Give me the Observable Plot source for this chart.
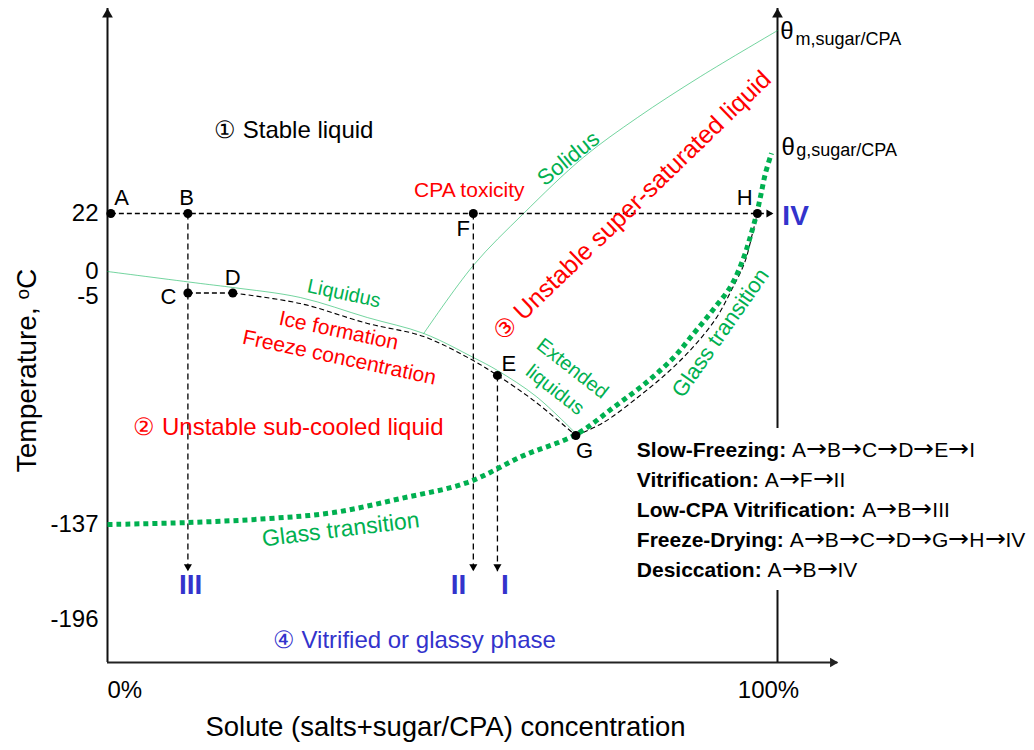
<!DOCTYPE html>
<html>
<head>
<meta charset="utf-8">
<script src="https://cdn.jsdelivr.net/npm/d3@7"></script>
<script src="https://cdn.jsdelivr.net/npm/@observablehq/plot@0.6"></script>
<style>
  html, body { margin: 0; padding: 0; background: #fff; }
  @font-face { font-family: "RouteArrows"; src: local("DejaVu Sans"), local("DejaVuSans"); unicode-range: U+2190-21FF; size-adjust: 118%; }
</style>
</head>
<body>
<div id="chart"></div>
<script>
// ------------------------------------------------------------------
// DATA (concentration in %, temperature in °C on a schematic axis)
// ------------------------------------------------------------------
const tempBreaks = [-223, -196, -137, -5, 0, 22, 100];   // schematic (piecewise) temperature axis
const yTicks = [22, 0, -5, -137, -196];
const yTickLabels = ["22", "0", "-5", "-137", "-196"];
const xTicks = [0, 100];
const xTickLabels = ["0%", "100%"];
const xAxisEnd = 109;            // x-axis arrow extends beyond 100%
const rightAxisGap = [-81.4, -178]; // right axis interrupted by the legend

// process states
const pointNames = ["A", "B", "C", "D", "E", "F", "G", "H"];
const pointConc  = [0.5, 12, 12, 18.7, 58.2, 54.6, 69.9, 97];
const pointTemp  = [22, 22, -4.3, -4.3, -50.7, 22, -85.5, 22];
const letterConc = [2.1, 11.8, 9.1, 18.7, 59.9, 53.1, 71.2, 95.1];
const letterTemp = [27.8, 27.8, -5.2, -1.2, -43.8, 16.3, -94.2, 28.1];
const arrowEndTemp = -166;       // end of the cooling arrows
const ivArrowConc = 99.4;        // end of the H -> IV arrow

// liquidus (0% .. G)
const liquidusConc = [0, 13.9, 18.7, 28.8, 38.8, 47.2, 54.6, 58.2, 64.0, 69.9];
const liquidusTemp = [0, -2.4, -3.2, -5.6, -17.2, -26.4, -40.3, -47.8, -62.9, -84.3];
// solidus (from liquidus up to θm)
const solidusConc = [47.2, 54.6, 62.1, 71.0, 79.1, 88.5, 100];
const solidusTemp = [-26.4, 2.3, 22, 43.3, 58.5, 74.1, 91.6];
// glass transition (Tg curve)
const glassConc = [0, 11.9, 23.9, 33.7, 43.7, 53.7, 62.1, 69.9, 75.5, 80.6, 84.5, 87.5, 90.3, 93.1, 94.9, 96.0, 96.9, 97.5, 98.2, 99.1];
const glassTemp = [-137, -135.9, -133.6, -130.1, -122.0, -112.7, -97.1, -85.0, -69.3, -54.2, -40.3, -26.4, -13.1, -2.8, 4.9, 13.7, 22, 28.9, 37.3, 44.9];
// freeze-concentration path D -> E -> G
const freezePathConc = [18.7, 28.8, 38.8, 47.2, 54.6, 58.2, 63.6, 69.9];
const freezePathTemp = [-4.3, -9.1, -20.6, -28.2, -42.1, -50.7, -65.2, -85.5];
// drying path G -> H
const dryPathConc = [69.9, 74.0, 79.3, 83.6, 87.5, 90.9, 93.1, 95.1, 96.3, 97];
const dryPathTemp = [-85.5, -78.0, -62.9, -49.0, -33.9, -17.2, -3.8, 3.4, 14.8, 22];

// end states
const romanLabels = ["III", "II", "I", "IV"];
const romanConc   = [12.4, 52.4, 59.3, 102.7];
const romanTemp   = [-174.9, -174.9, -174.9, 21.1];

// legend
const legendLabels = ["Slow-Freezing:", "Vitrification:", "Low-CPA Vitrification:", "Freeze-Drying:", "Desiccation:"];
const legendRoutes = ["A→B→C→D→E→I", "A→F→II", "A→B→III", "A→B→C→D→G→H→IV", "A→B→IV"];
const legendConc = 79.0, legendTemp = -94.2;

// ------------------------------------------------------------------
// schematic temperature axis: piecewise-linear, segment lengths in axis units
const axisLevels = [0, 43, 138, 366, 391, 449, 654];
const schematic = d3.scaleLinear().domain(tempBreaks).range(axisLevels);

const font = '"Liberation Sans", Arial, Helvetica, sans-serif';
const routeFont = '"RouteArrows", "Liberation Sans", Arial, Helvetica, sans-serif';
const GREEN = "#00b050", RED = "#ff0000", BLUE = "#3333cc", BLACK = "#000";
const toXY = (xs, ys) => xs.map((x, i) => ({x, y: ys[i]}));
const pts = pointNames.map((name, i) => ({name, x: pointConc[i], y: pointTemp[i]}));
const P = Object.fromEntries(pts.map(p => [p.name, p]));
const letters = pointNames.map((name, i) => ({name, x: letterConc[i], y: letterTemp[i]}));
const romans = romanLabels.map((t, i) => ({t, x: romanConc[i], y: romanTemp[i]}));
const yMin = tempBreaks[0], yMax = tempBreaks[tempBreaks.length - 1];

const dash = {stroke: BLACK, strokeWidth: 1.3, strokeDasharray: "5,3", strokeLinecap: "butt"};
const verticalDrops = [P.B, P.F, P.E];

const ctx = document.createElement("canvas").getContext("2d");
const measure = (t, f) => { ctx.font = f; return ctx.measureText(t).width; };
const legendMarks = legendLabels.flatMap((label, i) => {
  const w = measure(label + " ", `bold 21px ${font}`);
  return [
    Plot.text([label], {x: legendConc, y: legendTemp, dy: 30 * i, textAnchor: "start", fontSize: 21, fontWeight: "bold", fill: BLACK}),
    Plot.text([legendRoutes[i]], {x: legendConc, y: legendTemp, dy: 30 * i, dx: w, textAnchor: "start", fontSize: 21, fontFamily: routeFont, fill: BLACK})
  ];
});

const T = (text, x, y, opts) => Plot.text([text], {x, y, ...opts});

const chart = Plot.plot({
  width: 1034,
  height: 750,
  marginLeft: 107, marginRight: 257, marginTop: 8, marginBottom: 88,
  x: {domain: [0, 100], axis: null},
  y: {transform: schematic, domain: [axisLevels[0], axisLevels[axisLevels.length - 1]], axis: null},
  style: {fontFamily: font, background: "#fff", color: "#000", overflow: "visible"},
  marks: [
    // axes
    Plot.ruleX([0], {y1: yMin, y2: yMax, stroke: "#111", strokeWidth: 2}),
    Plot.ruleY([yMin], {x1: 0, x2: xAxisEnd, stroke: "#222", strokeWidth: 2}),
    Plot.ruleX([100], {y1: rightAxisGap[0], y2: yMax, stroke: "#111", strokeWidth: 2}),
    Plot.ruleX([100], {y1: yMin, y2: rightAxisGap[1], stroke: "#111", strokeWidth: 2}),
    Plot.dot([0, 100], {x: d => d, y: yMax, symbol: "triangle", r: 4, fill: "#111", dy: 6}),
    Plot.dot([xAxisEnd], {x: d => d, y: yMin, symbol: "triangle", r: 3.5, rotate: 90, fill: "#222", dx: -5}),
    Plot.text(yTicks, {x: 0, y: d => d, text: (d, i) => yTickLabels[i], textAnchor: "end", dx: -9, fontSize: 24, fill: BLACK}),
    Plot.text([xTicks[0]], {x: d => d, y: yMin, text: () => xTickLabels[0], textAnchor: "start", dy: 28, fontSize: 24, fill: BLACK}),
    Plot.text([xTicks[1]], {x: d => d, y: yMin, text: () => xTickLabels[1], textAnchor: "middle", dx: -9, dy: 28, fontSize: 24, fill: BLACK}),
    Plot.text(["Solute (salts+sugar/CPA) concentration"], {frameAnchor: "bottom", textAnchor: "middle", dx: 3, dy: 73, fontSize: 27.5, fill: BLACK}),
    Plot.text(["Temperature, ᵒC"], {frameAnchor: "left", textAnchor: "middle", rotate: -90, dx: -80, dy: 35, fontSize: 28, fill: BLACK}),

    // phase boundaries
    Plot.line(toXY(liquidusConc, liquidusTemp), {x: "x", y: "y", curve: "catmull-rom", stroke: GREEN, strokeOpacity: 0.55, strokeWidth: 1}),
    Plot.line(toXY(solidusConc, solidusTemp), {x: "x", y: "y", curve: "catmull-rom", stroke: GREEN, strokeOpacity: 0.55, strokeWidth: 1}),

    // process paths (dashed)
    Plot.line([P.A, P.H, {x: ivArrowConc, y: P.H.y}], {x: "x", y: "y", ...dash}),
    Plot.link(verticalDrops, {x1: "x", x2: "x", y1: "y", y2: arrowEndTemp, ...dash, strokeDasharray: "6,4"}),
    Plot.line([P.C, P.D], {x: "x", y: "y", ...dash}),
    Plot.line(toXY(freezePathConc, freezePathTemp), {x: "x", y: "y", curve: "catmull-rom", ...dash, strokeWidth: 1.1}),
    Plot.line(toXY(dryPathConc, dryPathTemp), {x: "x", y: "y", curve: "catmull-rom", ...dash, strokeWidth: 1.1}),
    Plot.dot(verticalDrops, {x: "x", y: arrowEndTemp, symbol: "triangle", r: 3, rotate: 180, fill: BLACK, dy: -4.7}),
    Plot.dot([ivArrowConc], {x: d => d, y: P.H.y, symbol: "triangle", r: 3, rotate: 90, fill: BLACK, dx: -4.7}),

    // glass transition (thick dotted)
    Plot.line(toXY(glassConc, glassTemp), {x: "x", y: "y", curve: "catmull-rom", stroke: GREEN, strokeWidth: 5, strokeDasharray: "5,4", strokeLinecap: "butt", strokeLinejoin: "miter"}),

    // state points
    Plot.dot(pts, {x: "x", y: "y", r: 4.5, fill: BLACK}),
    Plot.text(letters, {x: "x", y: "y", text: "name", fontSize: 22, fill: BLACK}),

    // end states
    Plot.text(romans, {x: "x", y: "y", text: "t", fontSize: 28, fontWeight: "bold", fill: BLUE}),

    // region annotations
    T("① Stable liquid", 27.8, 53.6, {fontSize: 24, fill: BLACK}),
    T("② Unstable sub-cooled liquid", 27.0, -80.9, {fontSize: 24, fill: RED}),
    T("③ Unstable super-saturated liquid", 78.3, 25.0, {fontSize: 25, fill: RED, rotate: -44}),
    T("④ Vitrified or glassy phase", 45.8, -209.2, {fontSize: 24, fill: BLUE}),
    T("CPA toxicity", 54.0, 30.8, {fontSize: 21, fill: RED}),
    T("Solidus", 68.8, 42.9, {fontSize: 22, fill: GREEN, rotate: -39}),
    T("Liquidus", 35.3, -4.4, {fontSize: 20, fill: GREEN, rotate: 12}),
    T("Ice formation", 34.5, -24.7, {fontSize: 21, fill: RED, rotate: 12}),
    T("Freeze concentration", 34.6, -40.3, {fontSize: 21, fill: RED, rotate: 12}),
    T("Extended", 69.4, -46.7, {fontSize: 20, fill: GREEN, rotate: 38}),
    T("liquidus", 66.8, -59.1, {fontSize: 20, fill: GREEN, rotate: 38}),
    T("Glass transition", 34.8, -140.1, {fontSize: 23, fill: GREEN, rotate: -7}),
    T("Glass transition", 91.5, -26.1, {fontSize: 22, fill: GREEN, rotate: -55}),

    // θ labels on the 100% axis
    T("θ", 101.4, 91.4, {fontSize: 24, fill: BLACK}),
    T("m,sugar/CPA", 102.7, 88.4, {fontSize: 18, fill: BLACK, textAnchor: "start"}),
    T("θ", 101.6, 47.1, {fontSize: 24, fill: BLACK}),
    T("g,sugar/CPA", 102.8, 46.0, {fontSize: 18, fill: BLACK, textAnchor: "start"}),

    // legend
    ...legendMarks
  ]
});
document.getElementById("chart").appendChild(chart);
</script>
</body>
</html>
